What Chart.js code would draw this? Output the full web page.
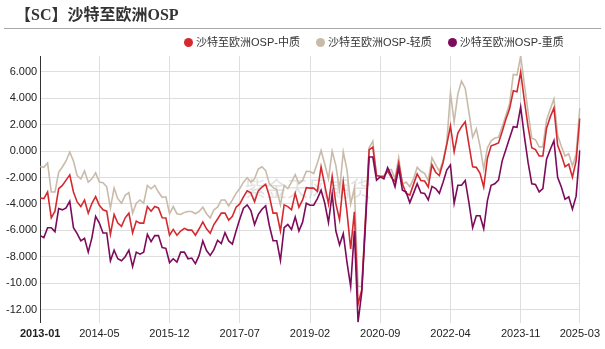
<!DOCTYPE html>
<html>
<head>
<meta charset="utf-8">
<script src="https://cdn.jsdelivr.net/npm/chart.js@4.4.1/dist/chart.umd.min.js"></script>
<style>
  body { margin: 0; background: #fff; }
  .wrap { position: relative; width: 605px; height: 349px; overflow: hidden; }
  .title { position: absolute; left: 15px; top: 6px; font: bold 16px/18px "Liberation Serif", "Noto Sans CJK SC", serif; color: #333; }
  .rule { position: absolute; left: 4px; right: 4px; top: 28px; height: 1px; background: #a8a8a8; }
  .legend { position: absolute; left: 184px; top: 35px; display: flex; gap: 16px; font: 11px/14px "Liberation Sans", "Noto Sans CJK SC", sans-serif; color: #333; }
  .legend span { display: flex; align-items: center; }
  .legend i { display: inline-block; width: 9px; height: 9px; border-radius: 50%; margin-right: 3px; }
  canvas { position: absolute; left: 0; top: 0; }
</style>
</head>
<body>
<div class="wrap">
  <canvas id="osp"></canvas>
  <div class="title">【SC】沙特至欧洲OSP</div>
  <div class="rule"></div>
  <div class="legend" id="legend"></div>
</div>
<script>
// monthly, 2013-01 .. 2025-03
const startYear = 2013;
const monthCount = 147;
const tickLabels = ['2013-01', '2014-05', '2015-12', '2017-07', '2019-02', '2020-09', '2022-04', '2023-11', '2025-03'];
const yTicks = [-12, -10, -8, -6, -4, -2, 0, 2, 4, 6];

const seriesNames = ['沙特至欧洲OSP-中质', '沙特至欧洲OSP-轻质', '沙特至欧洲OSP-重质'];
const seriesColors = ['#d42a2f', '#c9bba9', '#7d0b5c'];

const medium = [
  -3.55, -3.6, -3.1, -5.05, -4.55, -2.85, -2.6, -2.2, -1.8, -3.1, -3.85, -4.2,
  -3.7, -4.7, -3.95, -3.45, -4.1, -4.45, -4.55, -6.3, -4.8, -5.45, -5.7, -5.05,
  -4.7, -6.2, -5.3, -5.45, -5.45, -4.2, -4.55, -4.2, -4.3, -5.05, -5.06, -6.37,
  -5.93, -6.37, -6.05, -5.85, -5.98, -5.98, -6.37, -5.88, -5.36, -5.88, -6.22, -5.56,
  -5.14, -4.7, -4.7, -5.23, -4.94, -4.25, -4.0, -3.46, -3.01, -3.16, -3.83, -3.01,
  -2.72, -2.52, -3.4, -4.7, -4.7, -6.05, -4.07, -4.2, -4.44, -3.2, -4.25, -3.7,
  -2.77, -2.8, -2.8, -3.05, -1.2, -2.6, -4.0, -1.9, -4.0, -5.2, -2.35, -4.6,
  -7.4, -4.6, -11.6, -10.5, -5.2, 0.1, 0.3, -1.85, -1.9, -1.95, -1.5, -2.0,
  -2.3, -0.9, -2.47, -3.2, -3.33, -2.52, -1.73, -2.22, -2.27, -2.72, -1.04, -1.6,
  -1.85, -0.86, 0.49, 1.9, -0.05, 1.36, 1.85, 2.22, 0.49, -1.19, -1.23, -1.68,
  -2.72, -0.54, 0.4, 0.5, 0.62, 1.48, 2.42, 3.2, 4.57, 4.49, 5.98, 3.83,
  1.85, 0.25, 0.12, -0.37, -0.37, 1.73, 2.59, 3.26, 0.44, -0.3, -1.19, -0.99,
  -1.98, -0.74, 2.47
];

const light = [
  -1.16, -1.23, -0.9, -3.1, -3.1, -1.6, -1.2, -0.75, -0.07, -0.75, -1.85, -2.1,
  -1.5, -2.35, -2.1, -1.65, -2.35, -2.4, -2.7, -4.3, -2.8, -3.6, -3.95, -3.35,
  -3.15, -4.7, -3.95, -3.7, -3.95, -2.6, -2.85, -2.6, -3.1, -3.5, -3.46, -4.74,
  -4.2, -4.74, -4.8, -4.64, -4.57, -4.57, -4.74, -4.57, -4.25, -4.74, -5.06, -4.44,
  -4.25, -3.7, -3.7, -4.15, -3.7, -3.2, -2.84, -2.35, -2.02, -2.35, -2.1, -1.36,
  -1.19, -1.48, -2.47, -2.77, -2.91, -4.07, -2.6, -2.84, -2.35, -1.78, -2.47, -2.22,
  -1.53, -1.55, -1.7, -0.9, 0.05, -1.0, -2.1, 0.0, -1.1, -2.95, -0.05, -1.4,
  -4.0, -2.8, -10.25, -10.25, -5.0, 0.25, 0.75, -1.85, -1.95, -1.85, -1.4, -1.4,
  -2.1, -0.5, -2.5, -2.35, -2.7, -2.1, -1.23, -1.53, -1.68, -2.22, -0.5, -1.04,
  -1.53, -0.74, 0.62, 4.4, 2.22, 4.32, 5.3, 4.74, 2.96, 1.04, 1.68, 0.37,
  -1.36, 0.25, 0.78, 0.99, 1.04, 1.85, 2.72, 3.58, 5.8, 5.75, 7.2, 5.06,
  2.96, 0.99, 0.86, 0.32, 0.32, 2.35, 3.16, 3.95, 1.19, 0.37, -0.37, -0.2,
  -1.11, -0.25, 3.26
];

const heavy = [
  -6.4, -6.55, -5.8, -5.8, -6.1, -4.35, -4.45, -4.3, -3.8, -5.8, -6.25, -6.8,
  -6.6, -7.65, -6.55, -4.95, -5.45, -6.2, -6.2, -8.3, -7.5, -8.15, -8.3, -8.0,
  -7.5, -8.75, -7.65, -7.8, -7.65, -6.3, -6.85, -6.4, -6.4, -7.3, -7.36, -8.44,
  -8.15, -8.4, -7.65, -7.65, -8.15, -8.1, -8.52, -7.9, -6.8, -7.53, -7.9, -7.46,
  -6.75, -7.0, -6.17, -6.8, -7.04, -6.05, -5.14, -4.32, -4.07, -4.5, -5.56, -4.81,
  -4.4, -4.15, -5.63, -6.79, -6.79, -8.27, -5.8, -5.56, -5.93, -4.99, -6.05, -5.38,
  -3.95, -4.1, -4.1, -3.6, -2.95, -3.95, -5.4, -3.25, -6.05, -7.1, -6.25, -8.4,
  -10.25, -6.05, -12.96, -10.7, -5.6, -0.45, -0.45, -2.2, -1.95, -2.1, -1.25, -1.85,
  -2.7, -1.3, -2.96, -3.09, -3.9, -3.2, -2.47, -3.16, -3.2, -3.7, -2.67, -2.84,
  -3.2, -2.35, -1.43, -1.04, -3.95, -2.59, -2.59, -2.22, -3.9, -5.8, -4.89, -4.89,
  -5.88, -3.75, -2.59, -2.47, -2.2, -0.74, 0.12, 0.99, 1.85, 1.8, 3.33, 1.11,
  -0.86, -2.47, -2.52, -3.09, -2.84, -0.62, 0.12, 0.79, -1.98, -2.72, -3.65, -3.46,
  -4.4, -3.41, 0.05
];

const months = [];
for (let i = 0; i < monthCount; i++) {
  const y = startYear + Math.floor(i / 12);
  const m = (i % 12) + 1;
  months.push(`${y}-${m < 10 ? '0' + m : m}`);
}

const legend = document.getElementById('legend');
seriesNames.forEach((name, i) => {
  const item = document.createElement('span');
  item.innerHTML = `<i style="background:${seriesColors[i]}"></i>${name}`;
  legend.appendChild(item);
});

const watermark = {
  id: 'watermark',
  beforeDatasetsDraw(chart) {
    const ctx = chart.ctx;
    ctx.save();
    ctx.font = '21px "Noto Sans CJK SC"';
    ctx.fillStyle = 'rgba(170, 170, 170, 0.35)';
    ctx.textAlign = 'center';
    ctx.textBaseline = 'middle';
    ctx.fillText('紫金天风期货', 308, 188);
    ctx.restore();
  }
};

const lastIndex = monthCount - 1;

new Chart(document.getElementById('osp'), {
  type: 'line',
  data: {
    labels: months,
    datasets: [
      { label: seriesNames[0], data: medium, borderColor: seriesColors[0], order: 2 },
      { label: seriesNames[1], data: light, borderColor: seriesColors[1], order: 3 },
      { label: seriesNames[2], data: heavy, borderColor: seriesColors[2], order: 1 },
    ].map(d => Object.assign(d, { borderWidth: 1.6, pointRadius: 0, tension: 0, fill: false }))
  },
  options: {
    responsive: true,
    maintainAspectRatio: false,
    animation: false,
    layout: { padding: { top: 56, left: 3, right: 4, bottom: 3 } },
    plugins: {
      legend: { display: false },
      tooltip: { enabled: false },
    },
    scales: {
      x: {
        offset: false,
        border: { display: false },
        grid: {
          drawTicks: false,
          color: (ctx) => ctx.index === lastIndex ? 'rgba(0,0,0,0)' : '#dedede',
        },
        ticks: {
          autoSkip: false,
          maxRotation: 0,
          padding: 5,
          color: '#222',
          font: (ctx) => ({
            family: '"Liberation Sans", Arial, sans-serif',
            size: 11,
            weight: (ctx.index === 0 || ctx.index === lastIndex) ? 'bold' : 'normal',
          }),
          callback: function (value) {
            const label = this.getLabelForValue(value);
            return tickLabels.includes(label) ? label : null;
          },
        },
      },
      y: {
        min: -13,
        max: 7.2,
        border: { display: true, color: '#333', width: 1 },
        grid: { drawTicks: false, color: '#dedede' },
        afterBuildTicks: (scale) => {
          scale.ticks = yTicks.map(v => ({ value: v }));
        },
        ticks: {
          padding: 3,
          color: '#222',
          font: { family: '"Liberation Sans", Arial, sans-serif', size: 11 },
          callback: (v) => (Math.abs(v) >= 10 ? v.toFixed(2) : v.toFixed(3)),
        },
      },
    },
  },
  plugins: [watermark],
});
</script>
</body>
</html>
